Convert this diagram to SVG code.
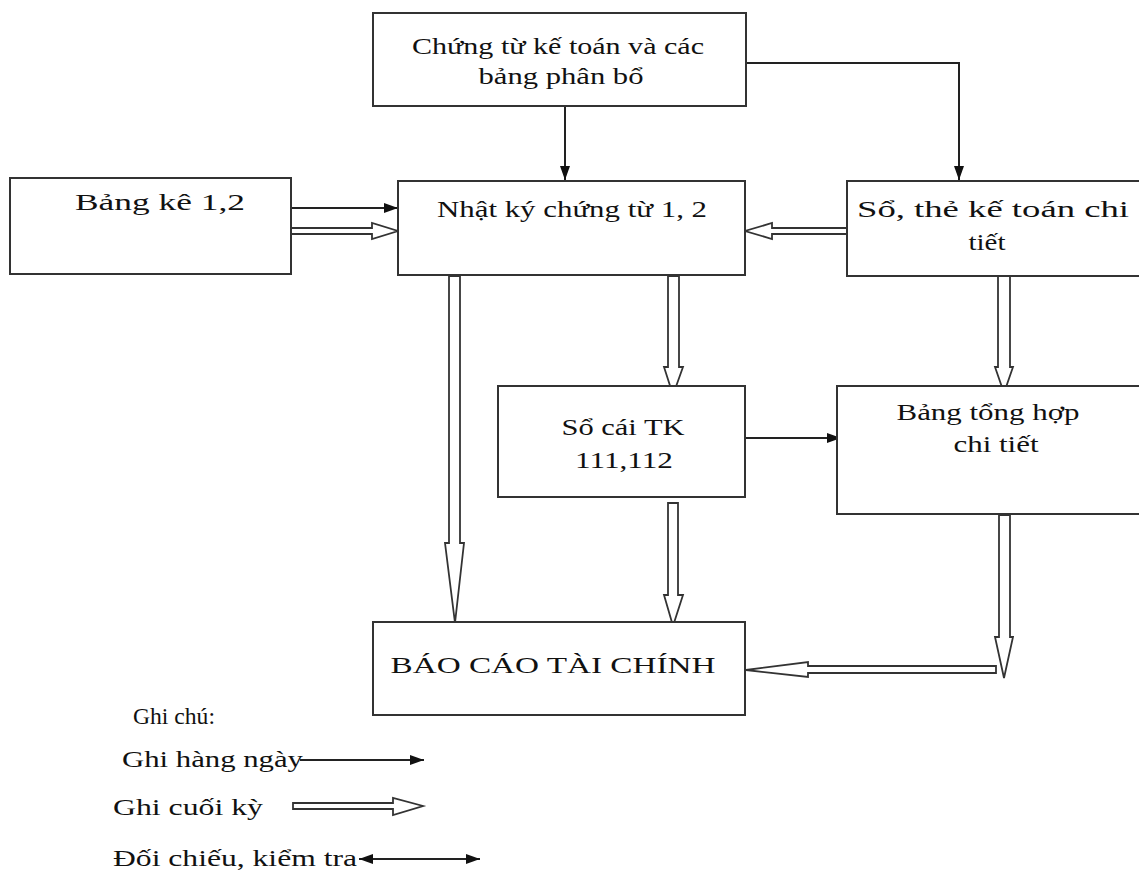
<svg xmlns="http://www.w3.org/2000/svg" width="1139" height="875" viewBox="0 0 1139 875">
  <defs>
    <marker id="head" viewBox="0 0 14 10" refX="14" refY="5" markerWidth="14" markerHeight="10" markerUnits="userSpaceOnUse" orient="auto-start-reverse">
      <path d="M0,0 L14,5 L0,10 Z" fill="#111"/>
    </marker>
    <style>
      .box { fill: #fff; stroke: #333; stroke-width: 2; }
      .lbl { font-family: "Liberation Serif", "Times New Roman", serif; font-size: 23px; fill: #111; }
      .mid { text-anchor: middle; }
      .thin { fill: none; stroke: #222; stroke-width: 2; }
      .hollow { fill: #fff; stroke: #333; stroke-width: 1.8; stroke-linejoin: miter; }
    </style>
  </defs>
  <rect width="1139" height="875" fill="#fff"/>

  <!-- connectors -->
  <g id="connectors">
    <!-- daily entries (thin, filled heads) -->
    <line class="thin" x1="565" y1="106" x2="565" y2="180" marker-end="url(#head)"/>
    <polyline class="thin" points="746,63 959,63 959,180" marker-end="url(#head)"/>
    <line class="thin" x1="291" y1="208" x2="398" y2="208" marker-end="url(#head)"/>
    <line class="thin" x1="745" y1="438" x2="841" y2="438" marker-end="url(#head)"/>

    <!-- period-end entries (hollow block arrows) -->
    <polygon class="hollow" points="291,228 372,228 372,223 398,231 372,239 372,234 291,234"/>
    <polygon class="hollow" points="847,228 772,228 772,223 745,231 772,239 772,234 847,234"/>
    <polygon class="hollow" points="449,276 460,276 460,543 464,543 455,623 445,543 449,543"/>
    <polygon class="hollow" points="668,276 679,276 679,367 683,367 673,395 664,367 668,367"/>
    <polygon class="hollow" points="998,276 1010,276 1010,367 1013,367 1004,393 995,367 998,367"/>
    <polygon class="hollow" points="668,503 678,503 678,595 683,595 673,626 664,595 668,595"/>
    <polygon class="hollow" points="999,515 1010,515 1010,637 1013,637 1004,678 995,637 999,637"/>
    <polygon class="hollow" points="996,666 808,666 808,662 746,670 808,677 808,673 996,673"/>
  </g>

  <!-- nodes -->
  <g id="chung-tu">
    <rect class="box" x="373" y="13" width="373" height="93"/>
    <text class="lbl mid" x="558" y="54" textLength="292" lengthAdjust="spacingAndGlyphs">Chứng từ kế toán và các</text>
    <text class="lbl mid" x="561" y="84" textLength="165" lengthAdjust="spacingAndGlyphs">bảng phân bổ</text>
  </g>
  <g id="bang-ke">
    <rect class="box" x="10" y="178" width="281" height="96"/>
    <text class="lbl mid" x="160" y="210" textLength="170" lengthAdjust="spacingAndGlyphs">Bảng kê 1,2</text>
  </g>
  <g id="nhat-ky">
    <rect class="box" x="398" y="181" width="347" height="94"/>
    <text class="lbl mid" x="572" y="217" textLength="270" lengthAdjust="spacingAndGlyphs">Nhật ký chứng từ 1, 2</text>
  </g>
  <g id="so-the">
    <rect class="box" x="847" y="181" width="300" height="95"/>
    <text class="lbl mid" x="993" y="217" textLength="272" lengthAdjust="spacingAndGlyphs">Sổ, thẻ kế toán chi</text>
    <text class="lbl mid" x="987" y="250" textLength="37" lengthAdjust="spacingAndGlyphs">tiết</text>
  </g>
  <g id="so-cai">
    <rect class="box" x="498" y="386" width="247" height="111"/>
    <text class="lbl mid" x="623" y="435" textLength="123" lengthAdjust="spacingAndGlyphs">Sổ cái TK</text>
    <text class="lbl mid" x="624" y="468" textLength="98" lengthAdjust="spacingAndGlyphs">111,112</text>
  </g>
  <g id="bang-tong-hop">
    <rect class="box" x="837" y="386" width="310" height="128"/>
    <text class="lbl mid" x="988" y="420" textLength="183" lengthAdjust="spacingAndGlyphs">Bảng tổng hợp</text>
    <text class="lbl mid" x="996" y="452" textLength="85" lengthAdjust="spacingAndGlyphs">chi tiết</text>
  </g>
  <g id="bao-cao">
    <rect class="box" x="373" y="622" width="372" height="93"/>
    <text class="lbl mid" x="553" y="673" textLength="325" lengthAdjust="spacingAndGlyphs">BÁO CÁO TÀI CHÍNH</text>
  </g>

  <!-- legend -->
  <g id="legend">
    <text class="lbl" x="133" y="724" textLength="82" lengthAdjust="spacingAndGlyphs">Ghi chú:</text>
    <text class="lbl" x="122" y="767" textLength="181" lengthAdjust="spacingAndGlyphs">Ghi hàng ngày</text>
    <line class="thin" x1="300" y1="760" x2="424" y2="760" marker-end="url(#head)"/>
    <text class="lbl" x="113" y="815" textLength="150" lengthAdjust="spacingAndGlyphs">Ghi cuối kỳ</text>
    <polygon class="hollow" points="293,803 393,803 393,798 423,806 393,815 393,809 293,809"/>
    <text class="lbl" x="113" y="866" textLength="244" lengthAdjust="spacingAndGlyphs">Đối chiếu, kiểm tra</text>
    <line class="thin" x1="359" y1="859" x2="480" y2="859" marker-start="url(#head)" marker-end="url(#head)"/>
  </g>
</svg>
